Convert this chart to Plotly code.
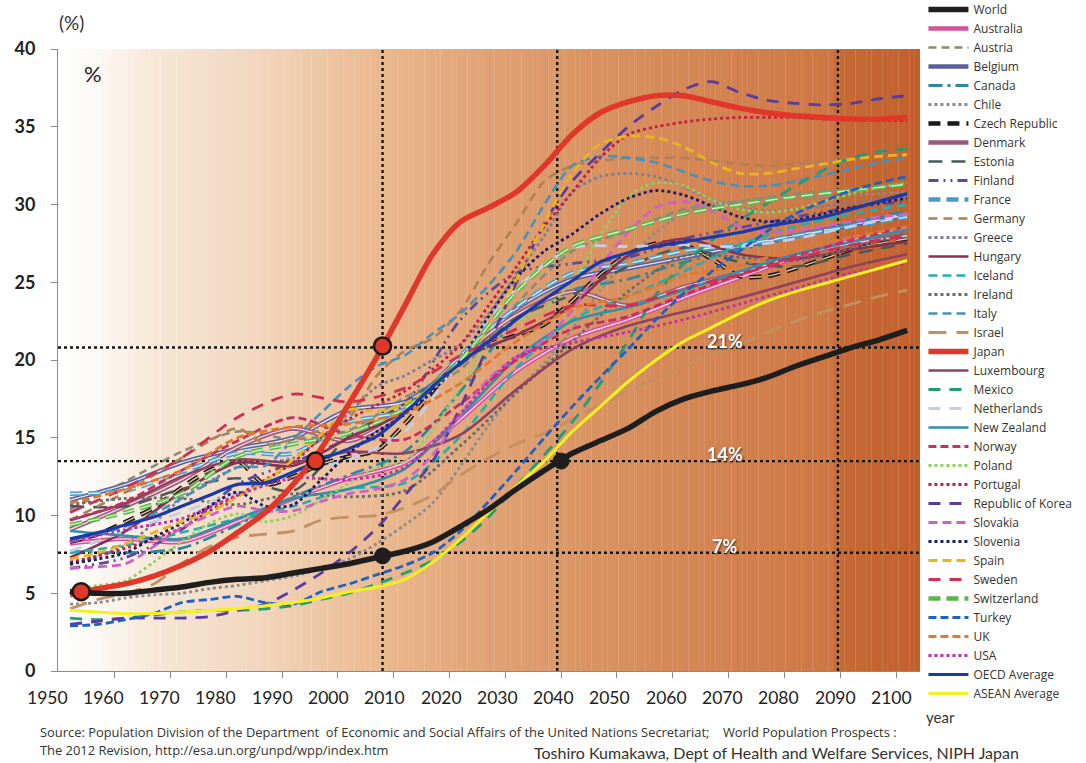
import plotly.graph_objects as go

# ---------------- data ----------------
YEARS5 = list(range(1950, 2101, 5))
YEARS10 = list(range(1950, 2101, 10))
X_LABELS = list(range(1950, 2101, 10))
Y_TICKS = [0, 5, 10, 15, 20, 25, 30, 35, 40]

world = [5.1, 5.0, 5.0, 5.2, 5.4, 5.7, 5.9, 6.0, 6.3, 6.6, 6.9, 7.3, 7.7, 8.3, 9.3, 10.4,
         11.7, 12.9, 14.0, 14.8, 15.6, 16.7, 17.5, 18.0, 18.4, 18.9, 19.6, 20.2, 20.8, 21.3, 21.9]
japan = [4.9, 5.3, 5.6, 6.1, 6.8, 7.7, 8.9, 10.2, 12.0, 14.3, 17.2, 20.2, 23.5, 26.8, 28.9, 29.8,
         30.8, 32.5, 34.5, 35.9, 36.6, 37.0, 37.0, 36.6, 36.2, 35.9, 35.7, 35.6, 35.5, 35.5, 35.6]
oecd = [8.5, 8.9, 9.4, 9.9, 10.6, 11.3, 12.0, 12.1, 12.8, 13.6, 14.3, 15.1, 16.6, 18.3, 19.8, 21.2,
        22.6, 23.9, 25.1, 26.3, 26.9, 27.3, 27.6, 27.9, 28.2, 28.6, 28.9, 29.2, 29.7, 30.2, 30.7]
asean = [3.9, 3.8, 3.7, 3.7, 3.8, 3.9, 4.0, 4.2, 4.4, 4.7, 5.1, 5.4, 5.9, 7.0, 8.5, 10.2,
         11.9, 13.5, 15.4, 17.0, 18.6, 20.0, 21.2, 22.1, 23.0, 23.8, 24.4, 24.9, 25.4, 25.9, 26.4]
korea = [3.0, 3.2, 3.4, 3.4, 3.4, 3.5, 3.9, 4.3, 5.2, 6.3, 7.6, 9.2, 11.3, 13.5, 17.0, 21.0,
         25.0, 28.8, 31.5, 33.3, 35.0, 36.3, 37.4, 37.9, 37.2, 36.7, 36.5, 36.4, 36.5, 36.8, 37.0]
spain = [7.2, 7.6, 8.2, 8.9, 9.6, 10.2, 11.2, 12.2, 13.6, 15.2, 16.8, 16.7, 17.2, 18.3, 19.8, 22.0,
         25.2, 28.8, 32.0, 33.9, 34.4, 34.3, 33.7, 32.7, 32.0, 32.0, 32.3, 32.6, 32.9, 33.1, 33.2]
italy = [8.3, 8.8, 9.3, 10.1, 11.1, 12.1, 13.1, 13.2, 14.9, 16.6, 18.3, 19.6, 20.3, 21.7, 23.0, 24.8,
         27.0, 30.0, 32.5, 33.1, 33.0, 32.7, 32.1, 31.5, 31.2, 31.2, 31.5, 31.9, 32.3, 32.7, 33.0]
portugal = [7.0, 7.4, 7.9, 8.5, 9.2, 10.3, 11.3, 12.3, 13.4, 15.0, 16.2, 17.1, 18.0, 19.4, 21.0, 23.5,
            26.0, 28.6, 30.8, 33.0, 34.5, 35.0, 35.3, 35.5, 35.6, 35.6, 35.6, 35.5, 35.5, 35.4, 35.4]
germany = [9.7, 10.6, 11.5, 12.6, 13.7, 14.8, 15.6, 14.6, 14.9, 15.5, 16.3, 19.0, 20.6, 21.4, 23.2, 26.2,
           28.8, 31.5, 32.5, 32.8, 33.0, 33.0, 33.0, 32.8, 32.6, 32.5, 32.6, 32.8, 33.0, 33.1, 33.2]
greece = [6.8, 7.4, 8.1, 9.5, 11.1, 12.2, 13.1, 13.4, 13.7, 15.0, 16.6, 18.3, 19.0, 20.0, 21.0, 23.0,
          25.5, 28.0, 30.8, 31.8, 32.0, 31.8, 31.1, 30.3, 29.8, 29.6, 29.7, 29.9, 30.1, 30.3, 30.5]
slovenia = [6.9, 7.2, 7.6, 8.6, 9.5, 10.6, 11.5, 10.6, 10.7, 12.3, 14.0, 15.4, 16.5, 18.0, 20.0, 22.8,
            25.3, 27.0, 28.1, 29.4, 30.4, 30.9, 30.6, 29.9, 29.2, 28.9, 29.0, 29.4, 29.8, 30.1, 30.4]
czech = [8.3, 8.8, 9.6, 10.5, 11.8, 12.9, 13.5, 12.0, 12.5, 13.3, 13.8, 14.2, 15.9, 18.0, 20.0, 21.0,
         21.6, 22.3, 23.8, 25.5, 26.8, 27.5, 27.4, 26.5, 25.4, 25.4, 25.9, 26.5, 27.1, 27.5, 27.8]
poland = [5.2, 5.5, 5.8, 7.0, 8.3, 9.5, 10.1, 9.6, 10.0, 11.0, 12.1, 13.1, 13.5, 15.5, 18.3, 21.0,
          22.5, 23.3, 25.0, 28.0, 30.5, 31.4, 31.2, 30.3, 29.7, 29.5, 29.7, 30.2, 30.7, 31.1, 31.4]
slovakia = [6.6, 6.7, 6.9, 8.0, 9.2, 10.0, 10.6, 10.3, 10.3, 10.9, 11.4, 11.7, 12.3, 13.9, 16.5, 18.8,
            20.2, 21.3, 23.2, 26.0, 28.2, 29.8, 30.2, 29.6, 28.6, 28.2, 28.3, 28.6, 28.9, 29.2, 29.4]
chile = [4.3, 4.4, 4.7, 4.9, 5.0, 5.3, 5.5, 5.8, 6.1, 6.6, 7.2, 8.2, 9.4, 10.8, 13.2, 15.8,
         18.0, 19.8, 22.0, 24.5, 26.5, 28.2, 29.5, 30.0, 30.2, 30.3, 30.4, 30.5, 30.6, 30.7, 30.8]
mexico = [3.4, 3.3, 3.4, 3.6, 3.8, 3.9, 3.9, 4.0, 4.2, 4.6, 5.0, 5.6, 6.3, 7.1, 8.3, 9.9,
          11.9, 13.9, 16.0, 18.5, 21.2, 24.2, 26.2, 27.7, 29.0, 30.1, 31.2, 32.2, 33.0, 33.4, 33.6]
turkey = [2.9, 3.0, 3.3, 3.7, 4.4, 4.6, 4.8, 4.4, 4.3, 5.1, 5.6, 6.2, 6.8, 7.6, 9.0, 10.9,
          12.9, 15.0, 17.0, 18.9, 20.7, 22.6, 24.3, 25.7, 27.0, 28.3, 29.4, 30.2, 30.9, 31.4, 31.8]
israel = [4.0, 4.6, 5.0, 5.6, 6.9, 8.0, 8.6, 8.8, 9.0, 9.7, 9.9, 10.0, 10.5, 11.3, 12.6, 13.7,
          14.6, 15.3, 16.2, 17.1, 18.0, 18.8, 19.6, 20.3, 21.0, 21.8, 22.5, 23.1, 23.6, 24.1, 24.5]

# decadal series (1950, 1960, ... 2100)
australia = [8.2, 8.5, 8.3, 9.6, 11.1, 12.4, 13.4, 16.2, 19.3, 21.4, 22.6, 24.0, 25.3, 26.6, 27.7, 28.5]
austria = [10.4, 12.2, 14.1, 15.4, 14.9, 15.5, 17.6, 19.4, 23.6, 27.0, 28.3, 29.7, 30.2, 30.7, 31.0, 31.3]
belgium = [11.0, 12.0, 13.4, 14.3, 15.0, 16.8, 17.3, 19.9, 23.3, 25.2, 25.9, 26.6, 27.3, 28.0, 28.7, 29.3]
canada = [7.7, 7.6, 7.9, 9.4, 11.2, 12.6, 14.1, 18.0, 22.6, 24.5, 25.2, 26.3, 27.1, 27.9, 28.8, 29.6]
denmark = [9.1, 10.6, 12.3, 14.4, 15.6, 14.8, 16.7, 20.2, 22.9, 24.4, 23.5, 24.7, 25.6, 26.7, 27.5, 28.0]
estonia = [10.6, 10.6, 11.7, 12.4, 11.6, 15.1, 17.2, 19.7, 22.7, 24.2, 26.0, 27.2, 26.3, 26.0, 26.8, 27.5]
finland = [6.6, 7.3, 9.1, 12.0, 13.4, 15.0, 17.2, 22.6, 25.6, 26.2, 26.6, 27.8, 28.5, 29.2, 29.8, 30.2]
france = [11.4, 11.6, 12.8, 14.0, 14.0, 16.0, 16.8, 20.3, 23.4, 25.6, 26.2, 27.0, 27.4, 28.0, 28.6, 29.2]
hungary = [7.3, 9.0, 11.5, 13.4, 13.2, 15.0, 16.7, 20.0, 21.6, 23.5, 26.7, 27.8, 26.8, 26.5, 27.1, 27.6]
iceland = [7.6, 8.1, 8.9, 9.8, 10.6, 11.7, 12.1, 15.1, 19.5, 22.6, 24.1, 25.7, 27.4, 28.6, 29.4, 30.0]
ireland = [10.7, 11.1, 11.1, 10.7, 11.4, 11.2, 11.6, 14.5, 17.9, 21.2, 24.4, 26.7, 26.6, 26.4, 27.2, 28.2]
luxembourg = [9.7, 10.8, 12.5, 13.6, 13.4, 14.1, 14.0, 15.2, 18.1, 20.7, 22.2, 23.1, 24.0, 25.0, 26.0, 26.8]
netherlands = [7.7, 9.0, 10.2, 11.5, 12.8, 13.6, 15.4, 20.1, 24.6, 27.2, 27.3, 27.4, 27.3, 27.8, 28.6, 29.4]
new_zealand = [9.0, 8.7, 8.5, 9.8, 11.1, 11.7, 13.0, 16.4, 20.1, 22.5, 23.4, 24.5, 25.7, 26.8, 27.6, 28.4]
norway = [9.7, 10.9, 12.9, 14.8, 16.3, 15.2, 14.9, 17.2, 20.0, 22.0, 22.8, 24.2, 25.5, 26.7, 27.7, 28.6]
sweden = [10.2, 11.8, 13.7, 16.3, 17.8, 17.3, 18.2, 20.3, 22.0, 23.5, 23.5, 24.6, 25.5, 26.5, 27.4, 28.0]
switzerland = [9.4, 10.2, 11.4, 13.8, 14.6, 15.3, 16.9, 20.0, 24.4, 27.3, 28.4, 29.4, 30.0, 30.5, 30.9, 31.3]
uk = [10.8, 11.7, 12.9, 15.0, 15.7, 15.9, 16.6, 18.5, 21.2, 23.3, 24.1, 25.4, 26.1, 27.1, 27.9, 28.6]
usa = [8.3, 9.1, 9.8, 11.3, 12.4, 12.3, 13.1, 16.6, 20.2, 21.1, 21.8, 22.6, 23.6, 24.6, 25.6, 26.2]

# milestone markers (ageing 7% / aged 14% / super-aged 21%)
japan_mark_years = [1952, 1994, 2006]
japan_mark_vals = [5.1, 13.5, 20.9]
world_mark_years = [2006, 2038]
world_mark_vals = [7.4, 13.5]
threshold_levels = [7.6, 13.5, 20.8]
threshold_labels = ["7%", "14%", "21%"]
milestone_years = [2006, 2037.3, 2087.6]

# legend order
ORDER = ["World", "Australia", "Austria", "Belgium", "Canada", "Chile", "Czech Republic", "Denmark",
         "Estonia", "Finland", "France", "Germany", "Greece", "Hungary", "Iceland", "Ireland", "Italy",
         "Israel", "Japan", "Luxembourg", "Mexico", "Netherlands", "New Zealand", "Norway", "Poland",
         "Portugal", "Republic of Korea", "Slovakia", "Slovenia", "Spain", "Sweden", "Switzerland",
         "Turkey", "UK", "USA", "OECD Average", "ASEAN Average"]

DATA = {
    "World": (YEARS5, world), "Australia": (YEARS10, australia), "Austria": (YEARS10, austria),
    "Belgium": (YEARS10, belgium), "Canada": (YEARS10, canada), "Chile": (YEARS5, chile),
    "Czech Republic": (YEARS5, czech), "Denmark": (YEARS10, denmark), "Estonia": (YEARS10, estonia),
    "Finland": (YEARS10, finland), "France": (YEARS10, france), "Germany": (YEARS5, germany),
    "Greece": (YEARS5, greece), "Hungary": (YEARS10, hungary), "Iceland": (YEARS10, iceland),
    "Ireland": (YEARS10, ireland), "Italy": (YEARS5, italy), "Israel": (YEARS5, israel),
    "Japan": (YEARS5, japan), "Luxembourg": (YEARS10, luxembourg), "Mexico": (YEARS5, mexico),
    "Netherlands": (YEARS10, netherlands), "New Zealand": (YEARS10, new_zealand),
    "Norway": (YEARS10, norway), "Poland": (YEARS5, poland), "Portugal": (YEARS5, portugal),
    "Republic of Korea": (YEARS5, korea), "Slovakia": (YEARS5, slovakia), "Slovenia": (YEARS5, slovenia),
    "Spain": (YEARS5, spain), "Sweden": (YEARS10, sweden), "Switzerland": (YEARS10, switzerland),
    "Turkey": (YEARS5, turkey), "UK": (YEARS10, uk), "USA": (YEARS10, usa),
    "OECD Average": (YEARS5, oecd), "ASEAN Average": (YEARS5, asean),
}

# ---------------- styles ----------------
# name: (color, width, dash, inner_color for hollow lines or None)
STYLE = {
    "World": ("#1e1e1e", 5.5, "solid", None),
    "Australia": ("#d6509a", 4.5, "solid", "#f7d3e6"),
    "Austria": ("#8a8a78", 2.5, "8px,5px", None),
    "Belgium": ("#5a5f9c", 4.5, "solid", "#e2e4f2"),
    "Canada": ("#2a8aa0", 2.8, "14px,5px,3px,5px", None),
    "Chile": ("#8c8c8c", 2.8, "dot", None),
    "Czech Republic": ("#1a1a1a", 4.5, "12px,7px", "#ecc09a"),
    "Denmark": ("#9c5878", 4.5, "solid", "#f0d8e2"),
    "Estonia": ("#4a5a58", 2.6, "14px,9px", None),
    "Finland": ("#5b4a9c", 2.8, "10px,5px,2px,5px,2px,5px", None),
    "France": ("#4a9cc8", 4.5, "12px,6px", "#d8ecf6"),
    "Germany": ("#b08050", 2.6, "9px,6px", None),
    "Greece": ("#7c7c9c", 2.8, "dot", None),
    "Hungary": ("#8a3050", 2.6, "solid", None),
    "Iceland": ("#20b0b0", 2.6, "9px,5px", None),
    "Ireland": ("#6a6a6a", 2.8, "dot", None),
    "Italy": ("#4890bc", 2.6, "9px,5px", None),
    "Israel": ("#c49060", 2.8, "18px,10px", None),
    "Japan": ("#e0372a", 5.5, "solid", None),
    "Luxembourg": ("#904060", 2.6, "solid", None),
    "Mexico": ("#1f9c7a", 2.8, "12px,9px", None),
    "Netherlands": ("#c4cfe6", 2.8, "12px,9px", None),
    "New Zealand": ("#3090a8", 2.6, "solid", None),
    "Norway": ("#c82d64", 2.8, "8px,4px", None),
    "Poland": ("#90d060", 2.8, "dot", None),
    "Portugal": ("#c42040", 2.8, "dot", None),
    "Republic of Korea": ("#5a3c9c", 2.8, "12px,9px", None),
    "Slovakia": ("#d060c4", 2.8, "9px,5px", None),
    "Slovenia": ("#1c1c6c", 2.8, "dot", None),
    "Spain": ("#e8b420", 2.8, "9px,5px", None),
    "Sweden": ("#d03050", 2.8, "12px,9px", None),
    "Switzerland": ("#58b848", 4.5, "12px,6px", "#d8f0d0"),
    "Turkey": ("#2060c4", 2.8, "8px,4px", None),
    "UK": ("#e07830", 2.8, "8px,4px", None),
    "USA": ("#c030a8", 2.8, "dot", None),
    "OECD Average": ("#1a3aa8", 3.2, "solid", None),
    "ASEAN Average": ("#f2f020", 3.0, "solid", None),
}

X_MIN, X_MAX = 1947.85, 2102.3
Y_MIN, Y_MAX = 0, 40
FONT = "Lato, 'Open Sans', sans-serif"
LEGEND_FONT = "'Open Sans', Lato, sans-serif"
LABEL_START, LABEL_STEP = 1945.9, 1.0085   # category-label placement (as in the original layout)


def xpaper(year):
    return (year - X_MIN) / (X_MAX - X_MIN)


fig = go.Figure()

# draw order: bundle first, then highlights on top; legend order via legendrank
top = ["OECD Average", "ASEAN Average", "Japan", "World"]
draw_order = [n for n in ORDER if n not in top] + top
for name in draw_order:
    yrs, vals = DATA[name]
    color, width, dash, inner = STYLE[name]
    rank = ORDER.index(name) + 1
    fig.add_trace(go.Scatter(
        x=yrs, y=vals, name=name, mode="lines",
        line=dict(color=color, width=width, dash=dash, shape="spline", smoothing=0.8),
        legendgroup=name, legendrank=rank, hoverinfo="name+x+y",
    ))
    if inner:
        fig.add_trace(go.Scatter(
            x=yrs, y=vals, name=name, mode="lines", showlegend=False,
            line=dict(color=inner, width=1.4, dash=dash, shape="spline", smoothing=0.8),
            legendgroup=name, hoverinfo="skip",
        ))

# milestone markers
fig.add_trace(go.Scatter(x=japan_mark_years, y=japan_mark_vals, mode="markers", showlegend=False,
                         marker=dict(size=17, color="#e0372a", line=dict(color="#1a1a1a", width=2.5)),
                         hoverinfo="skip"))
fig.add_trace(go.Scatter(x=world_mark_years, y=world_mark_vals, mode="markers", showlegend=False,
                         marker=dict(size=16, color="#1e1e1e", line=dict(color="#1e1e1e", width=1)),
                         hoverinfo="skip"))

# ---------------- background gradient ----------------
GRAD = [  # (year, (r,g,b))
    (X_MIN, (255, 255, 255)), (1954.5, (252, 249, 245)), (1966, (246, 230, 213)),
    (1982, (242, 216, 192)), (2006, (234, 184, 142)), (2027, (223, 160, 114)),
    (2054, (214, 139, 90)), (2086.5, (205, 118, 66)), (2087.5, (199, 106, 54)),
    (X_MAX, (194, 96, 44)),
]
shapes = []
N = 160
step = (X_MAX - X_MIN) / N
for i in range(N):
    xa = X_MIN + i * step
    xm = xa + step / 2
    for j in range(len(GRAD) - 1):
        if GRAD[j][0] <= xm <= GRAD[j + 1][0]:
            t = (xm - GRAD[j][0]) / (GRAD[j + 1][0] - GRAD[j][0])
            c = tuple(round(GRAD[j][1][k] + t * (GRAD[j + 1][1][k] - GRAD[j][1][k])) for k in range(3))
            break
    shapes.append(dict(type="rect", xref="x", yref="paper", x0=xa, x1=min(xa + step * 1.05, X_MAX),
                       y0=0, y1=1, fillcolor="rgb(%d,%d,%d)" % c, line=dict(width=0), layer="below"))

dotline = dict(color="#151515", width=2.4, dash="dot")
for lv in threshold_levels:
    shapes.append(dict(type="line", xref="paper", yref="y", x0=0, x1=1, y0=lv, y1=lv, line=dotline,
                       layer="below"))
for yr in milestone_years:
    shapes.append(dict(type="line", xref="x", yref="paper", x0=yr, x1=yr, y0=0, y1=1, line=dotline,
                       layer="below"))

# ---------------- annotations ----------------
ann = []
for lbl, lv in zip(threshold_labels, threshold_levels):
    ann.append(dict(x=2067.3, y=lv, xref="x", yref="y", text="<b>%s</b>" % lbl, showarrow=False,
                    xanchor="center", yanchor="middle", yshift=7,
                    font=dict(family=FONT, size=18, color="white", shadow="1px 1px 2px #3a2a20")))
for lab in X_LABELS:
    pos = LABEL_START + (lab - X_LABELS[0]) * LABEL_STEP
    ann.append(dict(x=xpaper(pos), y=0, xref="paper", yref="paper", text=str(lab), showarrow=False,
                    xanchor="center", yanchor="middle", yshift=-26,
                    font=dict(family=FONT, size=17.5, color="#222")))
ann += [
    dict(x=0.016, y=1.043, xref="paper", yref="paper", text="(%)", showarrow=False,
         xanchor="center", yanchor="middle", font=dict(family=FONT, size=19, color="#333")),
    dict(x=0.041, y=0.961, xref="paper", yref="paper", text="%", showarrow=False,
         xanchor="center", yanchor="middle", font=dict(family=FONT, size=22, color="#222")),
    dict(x=1.0, y=-0.074, xref="paper", yref="paper", text="year", showarrow=False, xanchor="left",
         yanchor="middle", xshift=4, font=dict(family=FONT, size=15, color="#333")),
    dict(x=-0.023, y=-0.098, xref="paper", yref="paper", xanchor="left", yanchor="middle", showarrow=False,
         align="left",
         text="Source: Population Division of the Department  of Economic and Social Affairs of the United "
              "Nations Secretariat;    World Population Prospects :",
         font=dict(family="'Open Sans', sans-serif", size=12.9, color="#333")),
    dict(x=-0.023, y=-0.127, xref="paper", yref="paper", xanchor="left", yanchor="middle", showarrow=False,
         align="left", text="The 2012 Revision, http://esa.un.org/unpd/wpp/index.htm",
         font=dict(family="'Open Sans', sans-serif", size=12.9, color="#333")),
    dict(x=0.834, y=-0.131, xref="paper", yref="paper", xanchor="center", yanchor="middle", showarrow=False,
         text="Toshiro Kumakawa, Dept of Health and Welfare Services, NIPH Japan",
         font=dict(family=FONT, size=16, color="#333")),
]

fig.update_layout(
    width=1086, height=763,
    margin=dict(l=58, r=166, t=49, b=92, autoexpand=False),
    paper_bgcolor="white", plot_bgcolor="white",
    shapes=shapes, annotations=ann,
    font=dict(family=FONT, color="#333"),
    showlegend=True,
    legend=dict(x=1.004, xanchor="left", y=1.0868, yanchor="top", bgcolor="rgba(0,0,0,0)",
                font=dict(family=LEGEND_FONT, size=12, color="#333"), itemwidth=40, tracegroupgap=0,
                traceorder="normal", maxheight=1),
    xaxis=dict(range=[X_MIN, X_MAX], showgrid=False, zeroline=False, showline=True, linecolor="#8a8a8a",
               linewidth=1, tickmode="array", tickvals=[y + 8 for y in X_LABELS[:-1]],
               ticktext=["" for _ in X_LABELS[:-1]], ticks="outside", ticklen=6, tickcolor="#8a8a8a"),
    yaxis=dict(range=[Y_MIN, Y_MAX], showgrid=False, zeroline=False, showline=True, linecolor="#8a8a8a",
               linewidth=1, tickmode="array", tickvals=Y_TICKS, ticks="outside", ticklen=6,
               tickcolor="#8a8a8a", ticklabelstandoff=12,
               tickfont=dict(family=FONT, size=18, color="#222", weight="bold")),
)

fig.write_html("out.html", config={"displayModeBar": False},
               post_script="document.body.style.margin='0px';")
